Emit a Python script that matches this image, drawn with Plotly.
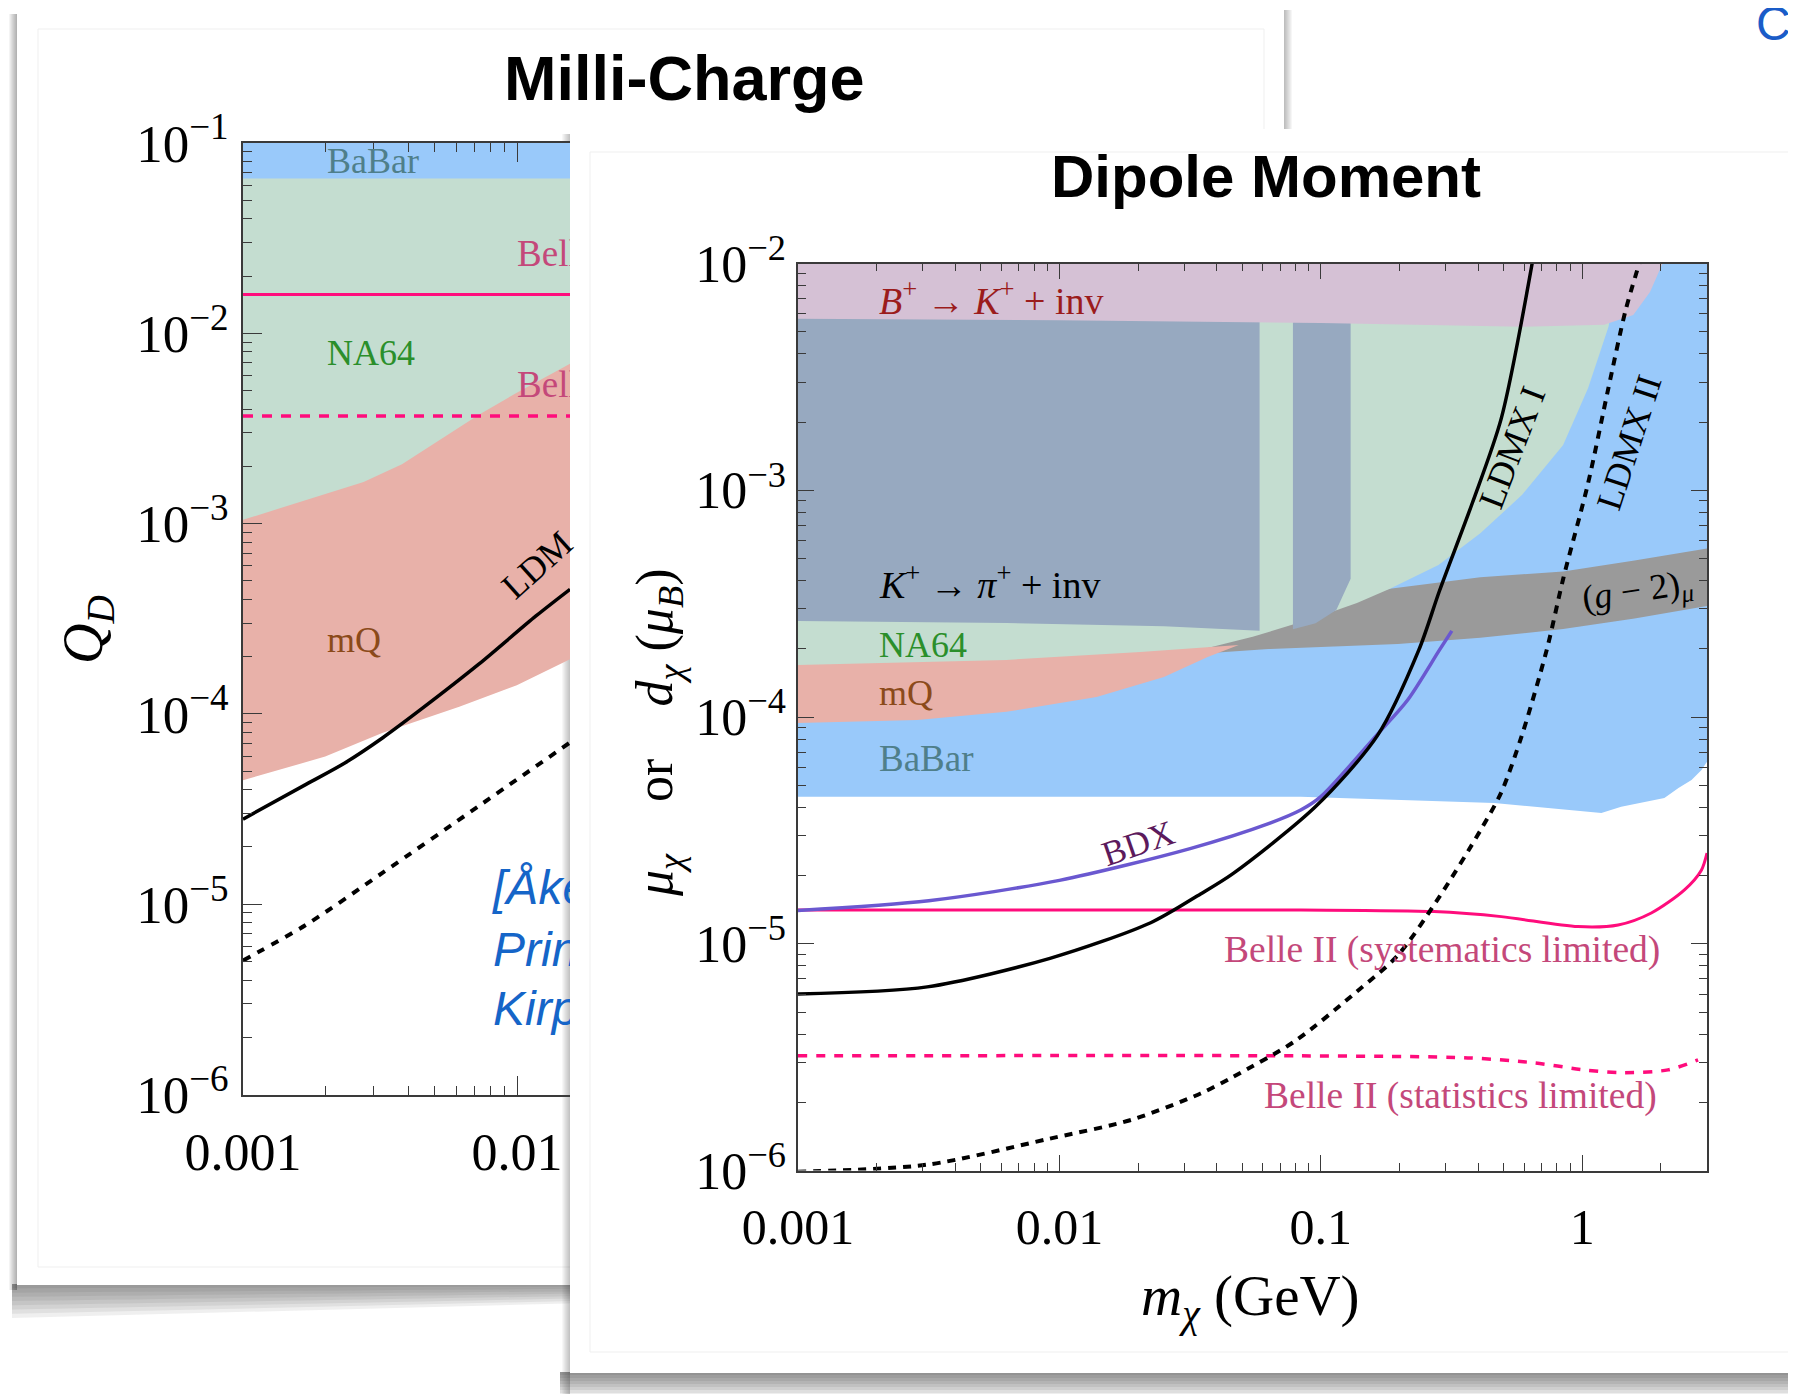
import plotly.graph_objects as go

# page pixel grid of the reference; the html body adds an 8 px margin, so the figure is 8 px smaller
W, H = 1796, 1394
OFF = 8
FW, FH = W - OFF, H - OFF

# ===================== Milli-Charge panel (m_chi [GeV], Q_D) =====================
mc_top = 0.1
mc_span_m = [0.001, 0.0156]
mc_babar_lo = [0.065, 0.065]

mc_na64_m = [0.001, 1.698e-3, 2.754e-3, 3.802e-3, 5.236e-3, 7.228e-3, 9.977e-3, 1.56e-2]
mc_na64_lo = [1.047e-3, 1.334e-3, 1.656e-3, 2.051e-3, 2.773e-3, 3.724e-3, 4.875e-3, 6.918e-3]

mc_mq_m = [0.001, 1.233e-3, 1.995e-3, 3.236e-3, 6.152e-3, 9.977e-3, 1.56e-2]
mc_mq_lo = [4.487e-5, 4.900e-5, 5.970e-5, 7.962e-5, 1.091e-4, 1.416e-4, 1.941e-4]

mc_belle_sys = [0.016, 0.016]
mc_belle_stat = [3.68e-3, 3.68e-3]

mc_ldmx1_m = [0.001, 1.698e-3, 2.344e-3, 3.236e-3, 4.467e-3, 7.228e-3, 1.172e-2, 1.56e-2]
mc_ldmx1_q = [2.80e-5, 4.266e-5, 5.51e-5, 7.50e-5, 1.059e-4, 1.820e-4, 3.273e-4, 4.519e-4]

mc_ldmx2_m = [0.001, 1.698e-3, 3.236e-3, 7.228e-3, 1.56e-2]
mc_ldmx2_q = [5.07e-6, 7.80e-6, 1.466e-5, 3.273e-5, 7.079e-5]

# ===================== Dipole Moment panel (m_chi [GeV], mu_chi or d_chi [mu_B]) =====================
dm_top = 1e-2

dm_babar_m = [0.001, 0.0838, 0.460, 1.183, 1.409, 2.061, 2.333, 2.618, 2.858, 3.0]
dm_babar_lo = [4.457e-5, 4.457e-5, 4.178e-5, 3.776e-5, 4.027e-5, 4.395e-5, 4.864e-5, 5.284e-5, 5.848e-5, 6.353e-5]

dm_g2_m = [0.0355, 0.0631, 0.1837, 0.4074, 0.845, 1.585, 3.0]
dm_g2_hi = [2.512e-4, 2.818e-4, 3.681e-4, 4.130e-4, 4.385e-4, 4.898e-4, 5.534e-4]
dm_g2_lo_m = [0.0355, 0.0631, 0.1972, 0.4074, 0.845, 1.585, 3.0]
dm_g2_lo = [1.905e-4, 1.995e-4, 2.099e-4, 2.239e-4, 2.443e-4, 2.723e-4, 3.090e-4]

dm_na64_m = [0.001, 6.27e-3, 0.0204, 0.0369, 0.0553, 0.0957, 0.1374, 0.1837, 0.2818, 0.4074,
             0.5888, 0.845, 1.052, 1.259, 1.413]
dm_na64_lo = [1.679e-4, 1.770e-4, 1.923e-4, 2.018e-4, 2.265e-4, 2.748e-4, 3.184e-4, 3.681e-4,
              4.677e-4, 6.457e-4, 9.55e-4, 1.585e-3, 2.818e-3, 5.248e-3, 1.0e-2]

dm_mq_hi_m = [0.001, 6.27e-3, 0.0204, 0.0369, 0.0485]
dm_mq_hi = [1.698e-4, 1.786e-4, 1.936e-4, 2.042e-4, 2.080e-4]
dm_mq_lo_m = [0.001, 2.858e-3, 6.27e-3, 0.01387, 0.0251, 0.0369, 0.0485]
dm_mq_lo = [9.42e-5, 9.70e-5, 1.054e-4, 1.227e-4, 1.503e-4, 1.841e-4, 2.080e-4]

dm_kpi1_m = [0.001, 6.31e-3, 0.0251, 0.0583]
dm_kpi1_lo = [2.655e-4, 2.600e-4, 2.512e-4, 2.399e-4]
dm_kpi2_m = [0.0782, 0.0955, 0.1146, 0.1300]
dm_kpi2_lo = [2.438e-4, 2.594e-4, 2.965e-4, 4.074e-4]

dm_bk_m = [0.001, 0.01, 0.1, 0.589, 1.213, 1.567, 1.816, 2.028]
dm_bk_lo = [5.70e-3, 5.62e-3, 5.47e-3, 5.26e-3, 5.37e-3, 5.93e-3, 7.48e-3, 1.0e-2]

dm_ldmx1_m = [0.001, 3.12e-3, 9.20e-3, 2.234e-2, 3.467e-2, 4.61e-2, 9.55e-2, 0.1648, 0.2371,
              0.2844, 0.380, 0.490, 0.643]
dm_ldmx1_v = [6.01e-6, 6.46e-6, 8.63e-6, 1.239e-5, 1.66e-5, 2.04e-5, 4.03e-5, 8.30e-5, 1.977e-4,
              3.606e-4, 8.81e-4, 2.075e-3, 1.0e-2]

dm_ldmx2_m = [0.001, 3.12e-3, 9.20e-3, 1.888e-2, 3.467e-2, 4.61e-2, 7.94e-2, 0.1374, 0.1972, 0.2844,
              0.4083, 0.490, 0.5875, 0.7311, 0.845, 1.052, 1.259, 1.462, 1.652]
dm_ldmx2_v = [9.89e-7, 1.062e-6, 1.384e-6, 1.675e-6, 2.188e-6, 2.588e-6, 3.715e-6, 6.166e-6, 8.91e-6,
              1.614e-5, 3.17e-5, 4.656e-5, 8.30e-5, 1.977e-4, 4.064e-4, 1.072e-3, 2.825e-3, 6.166e-3, 1.0e-2]

dm_bdx_m = [0.001, 3.162e-3, 0.01, 3.162e-2, 6.31e-2, 8.375e-2, 0.1, 0.1648, 0.2148, 0.2844, 0.3170]
dm_bdx_v = [1.403e-5, 1.549e-5, 1.905e-5, 2.630e-5, 3.388e-5, 3.890e-5, 4.457e-5, 8.41e-5, 1.189e-4,
            1.977e-4, 2.399e-4]

dm_bsys_m = [0.001, 0.0838, 0.271, 0.490, 0.9616, 1.371, 1.837, 2.460, 2.858, 3.0]
dm_bsys_v = [1.409e-5, 1.409e-5, 1.387e-5, 1.318e-5, 1.191e-5, 1.211e-5, 1.368e-5, 1.730e-5, 2.118e-5, 2.512e-5]

dm_bstat_m = [0.001, 0.0838, 0.3648, 0.6561, 1.019, 1.409, 2.128, 2.773]
dm_bstat_v = [3.206e-6, 3.206e-6, 3.141e-6, 2.985e-6, 2.780e-6, 2.704e-6, 2.780e-6, 3.076e-6]

# tick labels
mc_xticks = [0.001, 0.01]
mc_xtext = ["0.001", "0.01"]
mc_yticks = [1e-6, 1e-5, 1e-4, 1e-3, 1e-2, 1e-1]
mc_ytext = ["10<sup>−6</sup>", "10<sup>−5</sup>", "10<sup>−4</sup>", "10<sup>−3</sup>", "10<sup>−2</sup>", "10<sup>−1</sup>"]
dm_xticks = [0.001, 0.01, 0.1, 1]
dm_xtext = ["0.001", "0.01", "0.1", "1"]
dm_yticks = [1e-6, 1e-5, 1e-4, 1e-3, 1e-2]
dm_ytext = ["10<sup>−6</sup>", "10<sup>−5</sup>", "10<sup>−4</sup>", "10<sup>−3</sup>", "10<sup>−2</sup>"]

# ===================== colours =====================
C_BABAR = "#99c9fa"
C_NA64 = "#c4ddd0"
C_MQ = "#e8b1a9"
C_KPI = "#97a9c0"
C_BK = "#d5c1d5"
C_G2 = "#9a9a9a"
C_PINK = "#ff0c7c"
C_BDX = "#6a58d0"

fig = go.Figure()


def fill_to_top(xs, lo, top, color, xa, ya):
    fig.add_trace(go.Scatter(x=xs + xs[::-1], y=lo + [top] * len(xs), fill="toself", mode="lines",
                             line=dict(width=0), fillcolor=color, hoverinfo="skip", xaxis=xa, yaxis=ya))


def fill_between(x_hi, hi, x_lo, lo, color, xa, ya):
    fig.add_trace(go.Scatter(x=x_hi + x_lo[::-1], y=hi + lo[::-1], fill="toself", mode="lines",
                             line=dict(width=0), fillcolor=color, hoverinfo="skip", xaxis=xa, yaxis=ya))


def line(xs, ys, color, width, dash="solid", xa="x", ya="y", shape="spline"):
    fig.add_trace(go.Scatter(x=xs, y=ys, mode="lines", line=dict(color=color, width=width, dash=dash,
                                                                  shape=shape, smoothing=0.8),
                             hoverinfo="skip", xaxis=xa, yaxis=ya))


# ---- Milli-Charge ----
fill_to_top(mc_mq_m, mc_mq_lo, mc_top, C_MQ, "x", "y")
fill_to_top(mc_na64_m, mc_na64_lo, mc_top, C_NA64, "x", "y")
fill_to_top(mc_span_m, mc_babar_lo, mc_top, C_BABAR, "x", "y")
line(mc_span_m, mc_belle_sys, C_PINK, 3, shape="linear")
line(mc_span_m, mc_belle_stat, C_PINK, 3.5, dash="10px,9px", shape="linear")
line(mc_ldmx1_m, mc_ldmx1_q, "black", 3.5)
line(mc_ldmx2_m, mc_ldmx2_q, "black", 4, dash="8px,8px")

# clipped labels inside the (partly hidden) milli-charge panel
fig.add_trace(go.Scatter(x=[0.0100, 0.0100], y=[0.0252, 5.16e-3], mode="text", text=["Belle II", "Belle II"],
                         textposition="middle right", cliponaxis=True, hoverinfo="skip",
                         textfont=dict(family="Liberation Serif", size=37, color="#c4487a"), xaxis="x", yaxis="y"))
fig.add_trace(go.Scatter(x=[8.17e-3, 8.17e-3, 8.17e-3], y=[1.164e-5, 5.51e-6, 2.70e-6], mode="text",
                         text=["<i>[Åkesson et al.,</i>", "<i>Princeton</i>", "<i>Kirpichnikov</i>"],
                         textposition="middle right", cliponaxis=True, hoverinfo="skip",
                         textfont=dict(family="Liberation Sans", size=48, color="#1565c8"), xaxis="x", yaxis="y"))

# ---- Dipole Moment ----
XA, YA = "x2", "y2"
fill_to_top(dm_babar_m, dm_babar_lo, dm_top, C_BABAR, XA, YA)
fill_between(dm_g2_m, dm_g2_hi, dm_g2_lo_m, dm_g2_lo, C_G2, XA, YA)
fill_to_top(dm_na64_m, dm_na64_lo, dm_top, C_NA64, XA, YA)
fill_between(dm_mq_hi_m, dm_mq_hi, dm_mq_lo_m, dm_mq_lo, C_MQ, XA, YA)
fill_to_top(dm_kpi1_m, dm_kpi1_lo, dm_top, C_KPI, XA, YA)
fill_to_top(dm_kpi2_m, dm_kpi2_lo, dm_top, C_KPI, XA, YA)
fill_to_top(dm_bk_m, dm_bk_lo, dm_top, C_BK, XA, YA)
line(dm_bstat_m, dm_bstat_v, C_PINK, 3.5, dash="9px,9px", xa=XA, ya=YA)
line(dm_bsys_m, dm_bsys_v, C_PINK, 3, xa=XA, ya=YA)
line(dm_ldmx2_m, dm_ldmx2_v, "black", 4, dash="8px,7px", xa=XA, ya=YA)
line(dm_bdx_m, dm_bdx_v, C_BDX, 3.5, xa=XA, ya=YA)
line(dm_ldmx1_m, dm_ldmx1_v, "black", 3.5, xa=XA, ya=YA)

# ===================== axes =====================
AX = "#3a3a3a"


def minor_vals(lo_exp, hi_exp):
    return [k * 10.0 ** e for e in range(lo_exp, hi_exp) for k in range(2, 10)]


def axis(domain, rng, tv, tt, size, tlen, mirror, anchor, minors, standoff):
    return dict(type="log", domain=domain, range=rng, anchor=anchor, tickmode="array", tickvals=tv, ticktext=tt,
                showgrid=False, zeroline=False, showline=True, linecolor=AX, linewidth=1.5,
                ticks="inside", ticklen=tlen, tickwidth=1.3, tickcolor=AX, mirror=mirror, automargin=False,
                minor=dict(tickmode="array", tickvals=minors, ticks="inside", ticklen=tlen // 2,
                           tickwidth=1.1, tickcolor=AX, showgrid=False),
                tickfont=dict(family="Liberation Serif", size=size, color="black"),
                ticklabelstandoff=standoff)


def px_x(x):
    return (x - OFF) / FW


def px_y(y):
    return 1 - (y - OFF) / FH


fig.update_layout(
    xaxis=axis([px_x(243), px_x(570)], [-3, -1.807], mc_xticks, mc_xtext, 52, 19, "allticks", "y",
               minor_vals(-3, -1), 11),
    yaxis=axis([px_y(1094.6), px_y(143)], [-6, -1], mc_yticks, mc_ytext, 53, 19, False, "x",
               minor_vals(-6, -1), 2),
    xaxis2=axis([px_x(798), px_x(1707)], [-3, 0.47712], dm_xticks, dm_xtext, 50, 16, "allticks", "y2",
                minor_vals(-3, 1), 12),
    yaxis2=axis([px_y(1170.6), px_y(263.5)], [-6, -2], dm_yticks, dm_ytext, 52, 16, "allticks", "x2",
                minor_vals(-6, -2), 0),
)

# ===================== slide cards (shapes) =====================
shapes = []


def poly(pts, color, opacity):
    path = "M " + " L ".join(f"{px_x(x):.5f},{px_y(y):.5f}" for x, y in pts) + " Z"
    shapes.append(dict(type="path", path=path, xref="paper", yref="paper", fillcolor=color,
                       line=dict(width=0), opacity=opacity, layer="below"))


def rect(x0, y0, x1, y1, fill=None, lc=None, lw=0):
    shapes.append(dict(type="rect", xref="paper", yref="paper", x0=px_x(x0), x1=px_x(x1), y0=px_y(y1),
                       y1=px_y(y0), fillcolor=fill if fill else "rgba(0,0,0,0)",
                       line=dict(width=lw, color=lc if lc else "rgba(0,0,0,0)"), layer="below"))


N = 8
for i in range(N):
    f = (i + 1) / N
    # left card bottom shadow (page-curl: deeper at left)
    poly([(12, 1284), (1292, 1284), (1292, 1284 + 9 * f), (700, 1284 + 16 * f), (12, 1284 + 34 * f)], "#222", 0.075)
    # left card left-edge shadow
    poly([(17 - 8 * f, 14), (17, 14), (17, 1290), (17 - 8 * f, 1290)], "#222", 0.05)
    # left card right-edge shadow
    poly([(1284, 10), (1284 + 8 * f, 10), (1284 + 8 * f, 130), (1284, 130)], "#222", 0.04)
rect(17, 9, 1284, 1285, fill="white")
rect(38, 29, 1264, 1267, lc="#efefef", lw=1)

for i in range(N):
    f = (i + 1) / N
    poly([(560, 1372), (1800, 1372), (1800, 1372 + 24 * f), (560, 1372 + 24 * f)], "#222", 0.08)
    poly([(570 - 8 * f, 134), (570, 134), (570, 1394), (570 - 8 * f, 1394)], "#222", 0.035)
rect(570, 129, 1810, 1373, fill="white")
rect(590, 152, 1820, 1352, lc="#efefef", lw=1)

# ===================== text annotations =====================
ann = []


def text(t, x, y, size, color="black", angle=0, xanchor="center", family="Liberation Serif", yanchor="middle"):
    ann.append(dict(text=t, x=px_x(x), y=px_y(y), xref="paper", yref="paper", showarrow=False,
                    font=dict(family=family, size=size, color=color), textangle=angle,
                    xanchor=xanchor, yanchor=yanchor))


# titles
text("<b>Milli-Charge</b>", 684, 78, 63, family="Liberation Sans")
text("<b>Dipole Moment</b>", 1266, 177, 60, family="Liberation Sans")
text("C", 1754, 24, 48, color="#1a5cc8", xanchor="left", family="Liberation Sans")

# milli-charge labels
text("<i>Q</i><sub><i>D</i></sub>", 87, 630, 56, angle=-90)
text("BaBar", 325, 161, 36, color="#4f7f8a", xanchor="left")
text("NA64", 325, 353, 36, color="#2b8f2b", xanchor="left")
text("mQ", 325, 640, 36, color="#8b4a1a", xanchor="left")
text("LDM", 537, 565, 36, angle=-42)

# dipole labels
text("<i>m</i><sub><i>χ</i></sub> (GeV)", 1250, 1300, 57)
text("<i>μ</i><sub><i>χ</i></sub>    or    <i>d</i><sub><i>χ</i></sub> (<i>μ</i><sub><i>B</i></sub>)", 659, 733, 52,
     angle=-90)
text("<i>B</i><sup>+</sup> → <i>K</i><sup>+</sup> + inv", 877, 298, 38, color="#9b1c1c", xanchor="left")
text("<i>K</i><sup>+</sup> → <i>π</i><sup>+</sup> + inv", 877, 582, 38, xanchor="left")
text("NA64", 877, 645, 36, color="#2b8f2b", xanchor="left")
text("mQ", 877, 693, 36, color="#8b4a1a", xanchor="left")
text("BaBar", 877, 759, 37, color="#4f7f8a", xanchor="left")
text("BDX", 1138, 843, 35, color="#5c1a5c", angle=-19)
text("LDMX I", 1512, 448, 36, angle=-69)
text("LDMX II", 1629, 443, 36, angle=-72)
text("(<i>g</i> − 2)<sub><i>μ</i></sub>", 1637, 592, 36, angle=-9)
text("Belle II (systematics limited)", 1222, 950, 37.5, color="#c4487a", xanchor="left")
text("Belle II (statistics limited)", 1659, 1096, 37.5, color="#c4487a", xanchor="right")

fig.update_layout(width=FW, height=FH, margin=dict(l=0, r=0, t=0, b=0, pad=0, autoexpand=False),
                  paper_bgcolor="white", plot_bgcolor="rgba(0,0,0,0)", showlegend=False,
                  shapes=shapes, annotations=ann)

fig.write_html("out.html")
